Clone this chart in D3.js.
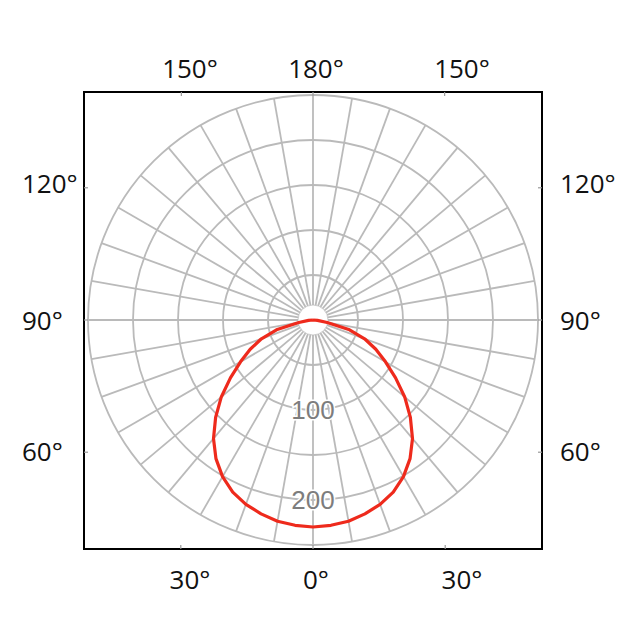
<!DOCTYPE html>
<html>
<head>
<meta charset="utf-8">
<script src="https://cdn.jsdelivr.net/npm/d3@7/dist/d3.min.js"></script>
<style>
  html, body { margin: 0; padding: 0; background: #fff; }
  svg { display: block; }
</style>
</head>
<body>
<svg id="chart" width="640" height="640"></svg>
<script>
// ---- data ----
const angles = [0, 5, 10, 15, 20, 25, 30, 35, 40, 45, 50, 55, 60, 65, 70, 75, 80, 85, 90];
const intensity = [230, 229, 227, 223, 218, 211, 201, 188, 172, 153, 133, 112, 93, 77, 61, 42, 16, 5, 0];
const ringValues = [50, 100, 150, 200, 250];
const ringLabels = [100, 200];
const spokeAngles = d3.range(0, 360, 10);
const topLabels = ["150°", "180°", "150°"];
const bottomLabels = ["30°", "0°", "30°"];
const sideLabels = ["120°", "90°", "60°"];

// ---- layout ----
const svg = d3.select("#chart");
const cx = 313, cy = 320;
const box = { x0: 84, y0: 92, x1: 542, y1: 549 };
const r = d3.scaleLinear().domain([0, 250]).range([0, 225]);
const innerR = 15;
const gridColor = "#bababa";

const g = svg.append("g").attr("transform", `translate(${cx},${cy})`);

// rings
g.selectAll("circle.ring").data(ringValues).join("circle")
  .attr("class", "ring").attr("r", d => r(d))
  .attr("fill", "none").attr("stroke", gridColor).attr("stroke-width", 1.8);
g.append("circle").attr("r", innerR)
  .attr("fill", "#fff").attr("stroke", "#d0d0d0").attr("stroke-width", 1);

// spokes (angle measured from downward direction)
g.selectAll("line.spoke").data(spokeAngles).join("line")
  .attr("class", "spoke")
  .attr("x1", d => innerR * Math.sin(d * Math.PI / 180))
  .attr("y1", d => innerR * Math.cos(d * Math.PI / 180))
  .attr("x2", d => r(250) * Math.sin(d * Math.PI / 180))
  .attr("y2", d => r(250) * Math.cos(d * Math.PI / 180))
  .attr("stroke", gridColor).attr("stroke-width", 1.8);

// ring labels
g.selectAll("text.rl").data(ringLabels).join("text")
  .attr("class", "rl")
  .attr("x", 0).attr("y", d => r(d))
  .attr("dy", "0.36em")
  .attr("text-anchor", "middle")
  .attr("font-family", "Liberation Sans, Arial, sans-serif")
  .attr("font-size", 26)
  .attr("fill", "#7d7d7d")
  .attr("stroke", "#fff").attr("stroke-width", 3).attr("paint-order", "stroke")
  .text(d => d);

// intensity curve: left half (90 -> 0) and right half (0 -> 90)
const pts = [];
for (let i = angles.length - 1; i >= 0; i--) pts.push([Math.PI + angles[i] * Math.PI / 180, r(intensity[i])]);
for (let i = 1; i < angles.length; i++) pts.push([Math.PI - angles[i] * Math.PI / 180, r(intensity[i])]);
const line = d3.lineRadial().angle(d => d[0]).radius(d => d[1]).curve(d3.curveLinear);
g.append("path").attr("d", line(pts))
  .attr("fill", "none").attr("stroke", "#ee2a1c").attr("stroke-width", 3.2)
  .attr("stroke-linejoin", "round");

// frame
svg.append("rect")
  .attr("x", box.x0).attr("y", box.y0)
  .attr("width", box.x1 - box.x0).attr("height", box.y1 - box.y0)
  .attr("fill", "none").attr("stroke", "#000").attr("stroke-width", 2);

// small ticks on frame where 30° spokes meet it
const ticks = svg.append("g").attr("stroke", "#999").attr("stroke-width", 1.2);
const halfW = cx - box.x0, halfH = box.y1 - cy;
[-30, 0, 30].forEach(a => {
  const t = Math.tan(a * Math.PI / 180);
  const xt = cx + (cy - box.y0) * t, xb = cx + halfH * t;
  ticks.append("line").attr("x1", xt).attr("x2", xt).attr("y1", box.y0).attr("y2", box.y0 + 4);
  ticks.append("line").attr("x1", xb).attr("x2", xb).attr("y1", box.y1).attr("y2", box.y1 - 4);
  const yl = cy + halfW * t;
  ticks.append("line").attr("y1", yl).attr("y2", yl).attr("x1", box.x0).attr("x2", box.x0 + 4);
  ticks.append("line").attr("y1", yl).attr("y2", yl).attr("x1", box.x1).attr("x2", box.x1 - 4);
});

// angle labels
const labFont = "Open Sans, Noto Sans, sans-serif";
const topX = [190, 316, 462];
svg.selectAll("text.top").data(topLabels).join("text")
  .attr("class", "top").attr("x", (d, i) => topX[i]).attr("y", 78)
  .attr("text-anchor", "middle").attr("font-family", labFont).attr("font-size", 26)
  .attr("fill", "#111").text(d => d);
svg.selectAll("text.bot").data(bottomLabels).join("text")
  .attr("class", "bot").attr("x", (d, i) => topX[i]).attr("y", 589)
  .attr("text-anchor", "middle").attr("font-family", labFont).attr("font-size", 26)
  .attr("fill", "#111").text(d => d);
const sideY = [193, 330, 461];
svg.selectAll("text.sl").data(sideLabels).join("text")
  .attr("class", "sl").attr("x", 22).attr("y", (d, i) => sideY[i])
  .attr("font-family", labFont).attr("font-size", 26)
  .attr("fill", "#111").text(d => d);
svg.selectAll("text.sr").data(sideLabels).join("text")
  .attr("class", "sr").attr("x", 560).attr("y", (d, i) => sideY[i])
  .attr("font-family", labFont).attr("font-size", 26)
  .attr("fill", "#111").text(d => d);
</script>
</body>
</html>
